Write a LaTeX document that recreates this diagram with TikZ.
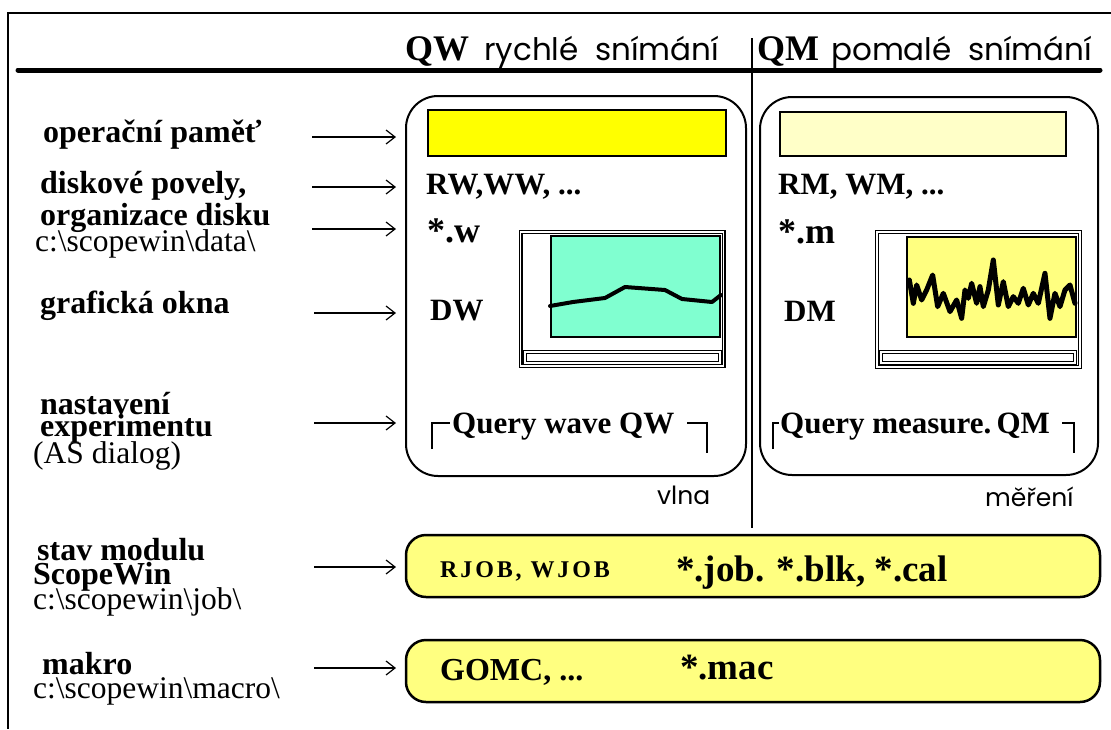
\documentclass[tikz,border=0pt]{standalone}
\usepackage{fontspec}
\setmainfont{Liberation Serif}
\newfontfamily\geo{Poppins}
\usetikzlibrary{arrows.meta}
\definecolor{memyellow}{RGB}{255,255,0}
\definecolor{palemem}{RGB}{255,255,200}
\definecolor{boxyellow}{RGB}{255,255,128}
\definecolor{wavegreen}{RGB}{128,255,208}
\begin{document}
\begin{tikzpicture}[x=1pt,y=-1pt,
  lbl/.style={anchor=base west,inner sep=0pt,font=\fontsize{32}{32}\selectfont\bfseries},
  pathtxt/.style={anchor=base west,inner sep=0pt,font=\fontsize{31.5}{31.5}\selectfont},
  intxt/.style={anchor=base west,inner sep=0pt,font=\fontsize{31}{31}\selectfont\bfseries},
  bigtxt/.style={anchor=base west,inner sep=0pt,font=\fontsize{36}{36}\selectfont\bfseries},
  headserif/.style={anchor=base west,inner sep=0pt,font=\fontsize{36}{36}\selectfont\bfseries},
  headsans/.style={anchor=base west,inner sep=0pt,font=\fontsize{31}{31}\selectfont\geo},
  smallsans/.style={anchor=base west,inner sep=0pt,font=\fontsize{25}{25}\selectfont\geo},
  arr/.style={line width=1.2pt,-{Straight Barb[length=9pt,width=14pt,line width=1.2pt]}},
  panel/.style={draw,line width=2pt,rounded corners=32pt,inner sep=0pt},
  membar/.style={draw,line width=2pt,inner sep=0pt},
  winframe/.style={draw,line width=1.2pt,double=white,double distance=1.6pt,inner sep=0pt,fill=white},
  plotarea/.style={draw,line width=2pt,inner sep=0pt},
  scrollbar/.style={draw,line width=1pt,double=white,double distance=1.4pt,inner sep=0pt,fill=white},
  jobbox/.style={draw,line width=2.5pt,rounded corners=20pt,fill=boxyellow,inner sep=0pt},
  trace/.style={line width=4pt,line join=round,line cap=round},
  corner/.style={line width=2pt}
]
\useasboundingbox (0,0) rectangle (1111,729);

% outer frame (top and left edges only)
\draw[line width=1.3pt] (1111,13) -- (8,13) -- (8,729);

% header rule and column divider
\coordinate (ruleL) at (18,70);
\coordinate (ruleR) at (1100,70);
\draw[line width=5pt,line cap=round] (ruleL) -- (ruleR);
\coordinate (divT) at (752,38);
\coordinate (divB) at (752,528);
\draw[line width=1.5pt] (divT) -- (divB);

% column headings
\node[headserif] (qwh) at (405,60) {QW};
\node[headsans] (qwt) at (484,60) {rychlé\ \ snímání};
\node[headserif] (qmh) at (757,60) {QM};
\node[headsans] (qmt) at (831,60) {pomalé\ \ snímání};

% the two acquisition panels
\node[panel,minimum width=340pt,minimum height=380pt] (qwbox) at (576,286) {};
\node[panel,minimum width=338pt,minimum height=378pt] (qmbox) at (929,286) {};

% memory bars
\node[membar,fill=memyellow,minimum width=298pt,minimum height=46pt] (qwmem) at (577,133) {};
\node[membar,fill=palemem,minimum width=286pt,minimum height=44pt] (qmmem) at (923,134) {};

% disk commands and files
\node[intxt] (rwww) at (426,194) {RW,WW, ...};
\node[intxt] (rmwm) at (778,194) {RM, WM, ...};
\node[bigtxt] (wext) at (427,242) {*.w};
\node[bigtxt] (mext) at (778,243) {*.m};
\node[intxt] (dw) at (430,320) {DW};
\node[intxt] (dm) at (784,321) {DM};

% graphic windows, wave panel
\node[winframe,minimum width=203pt,minimum height=134pt] (qwwin) at (622,299) {};
\node[plotarea,fill=wavegreen,minimum width=169pt,minimum height=101pt] (qwplot) at (635.5,286.5) {};
\node[scrollbar,minimum width=195pt,minimum height=11pt] (qwscroll) at (622.5,357.5) {};
\draw[trace] (550,306) -- (573,302) -- (605,298) -- (625,287) -- (665,290)
  -- (682,299) -- (712,302) -- (721,295);

% graphic windows, measurement panel
\node[winframe,minimum width=203pt,minimum height=135pt] (qmwin) at (978.5,299.5) {};
\node[plotarea,fill=boxyellow,minimum width=169pt,minimum height=100pt] (qmplot) at (991.5,287) {};
\node[scrollbar,minimum width=194pt,minimum height=11pt] (qmscroll) at (978,357.5) {};
\begin{scope}[shift={(750,90)},x=0.3333pt,y=-0.3333pt]
\draw[trace,line width=5pt] (478,570) -- (490,640) -- (500,585) -- (515,630) -- (530,600) -- (548,555)
  -- (563,650) -- (580,610) -- (600,665) -- (620,630) -- (635,685) -- (645,600)
  -- (655,625) -- (665,580) -- (680,640) -- (690,590) -- (700,650) -- (715,600)
  -- (730,510) -- (745,645) -- (760,575) -- (775,650) -- (790,620) -- (805,640)
  -- (820,595) -- (835,645) -- (850,610) -- (865,640) -- (885,550) -- (900,685)
  -- (915,610) -- (930,650) -- (945,600) -- (960,585) -- (975,640);
\end{scope}

% experiment set-up dialogs with corner marks
\node[intxt] (qwq) at (452,433) {Query wave QW};
\draw[corner] (432,449) -- (432,423) -- (450,423);
\draw[corner] (687,423) -- (707,423) -- (707,453);
\node[intxt] (qmq) at (780,433) {Query measure.\,QM};
\draw[corner] (773,449) -- (773,423) -- (779,423);
\draw[corner] (1062,423) -- (1074,423) -- (1074,453);

\node[smallsans] (vlna) at (657,504) {vlna};
\node[smallsans] (mereni) at (985,506) {měření};

% module state and macro bars
\node[jobbox,minimum width=694pt,minimum height=62pt] (jobbar) at (753,566) {};
\node[anchor=base west,inner sep=0pt,font=\fontsize{24}{24}\selectfont\bfseries\addfontfeatures{LetterSpace=12}] (rjob) at (440,577) {RJOB, WJOB};
\node[anchor=base west,inner sep=0pt,font=\fontsize{37}{37}\selectfont\bfseries] (jobext) at (676,581) {*.job. *.blk, *.cal};
\node[jobbox,minimum width=694pt,minimum height=62pt] (macbar) at (753,671) {};
\node[anchor=base west,inner sep=0pt,font=\fontsize{32}{32}\selectfont\bfseries] (gomc) at (440,680) {GOMC, ...};
\node[anchor=base west,inner sep=0pt,font=\fontsize{37}{37}\selectfont\bfseries] (macext) at (680,679) {*.mac};

% left-hand legend
\node[lbl] (l1) at (43,142) {operační paměť};
\node[lbl] (l2) at (40,193) {diskové povely,};
\node[lbl] (l3) at (40,225) {organizace disku};
\node[pathtxt] (l3p) at (35,251) {c:\textbackslash scopewin\textbackslash data\textbackslash};
\node[lbl] (l4) at (40,313) {grafická okna};
\node[lbl] (l5) at (40,414) {nastavení};
\node[lbl] (l5b) at (40,436) {experimentu};
\node[pathtxt] (l5p) at (33,463) {(AS dialog)};
\node[lbl] (l6) at (37,560) {stav modulu};
\node[lbl] (l6b) at (33,584) {ScopeWin};
\node[pathtxt] (l6p) at (33,609) {c:\textbackslash scopewin\textbackslash job\textbackslash};
\node[lbl] (l7) at (42,674) {makro};
\node[pathtxt] (l7p) at (33,698) {c:\textbackslash scopewin\textbackslash macro\textbackslash};

% legend arrows
\coordinate (a1s) at (312,137); \coordinate (a1e) at (396,137);
\coordinate (a2s) at (312,187); \coordinate (a2e) at (396,187);
\coordinate (a3s) at (312,229); \coordinate (a3e) at (396,229);
\coordinate (a4s) at (314,313); \coordinate (a4e) at (396,313);
\coordinate (a5s) at (314,423); \coordinate (a5e) at (396,423);
\coordinate (a6s) at (314,567); \coordinate (a6e) at (396,567);
\coordinate (a7s) at (314,668); \coordinate (a7e) at (396,668);
\foreach \i in {1,...,7} \draw[arr] (a\i s) -- (a\i e);
\end{tikzpicture}
\end{document}
